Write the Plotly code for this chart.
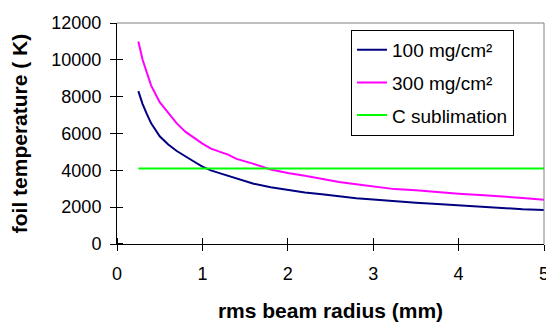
import plotly.graph_objects as go

# rms beam radius (mm)
radius_mm = [0.25, 0.3, 0.35, 0.4, 0.5, 0.6, 0.7, 0.8, 0.9, 1.0, 1.1, 1.2, 1.3, 1.4,
             1.5, 1.6, 1.8, 2.0, 2.2, 2.4, 2.6, 2.8, 3.0, 3.25, 3.5, 3.75, 4.0,
             4.25, 4.5, 4.75, 5.0]
# foil temperature (K), 100 mg/cm2
temp_100 = [8300, 7600, 7050, 6550, 5850, 5400, 5050, 4750, 4480, 4200, 4000, 3850,
            3700, 3530, 3400, 3270, 3080, 2920, 2800, 2700, 2590, 2490, 2420, 2320,
            2240, 2170, 2090, 2010, 1950, 1890, 1850]
# foil temperature (K), 300 mg/cm2
temp_300 = [11000, 10000, 9300, 8600, 7700, 7100, 6550, 6100, 5750, 5450, 5180, 5000,
            4850, 4620, 4500, 4350, 4050, 3850, 3700, 3520, 3370, 3240, 3110, 2980,
            2920, 2810, 2730, 2660, 2600, 2500, 2400]
# carbon sublimation temperature
csub_r = [0.25, 5.0]
csub_T = [4100, 4100]

x_ticks = [0, 1, 2, 3, 4, 5]
y_ticks = [0, 2000, 4000, 6000, 8000, 10000, 12000]

FONT = "Liberation Sans, Arial, sans-serif"

fig = go.Figure()
fig.add_trace(go.Scatter(x=radius_mm, y=temp_100, mode="lines", name="100 mg/cm²",
                         line=dict(color="#000080", width=2), legendgroup="a"))
fig.add_trace(go.Scatter(x=radius_mm, y=temp_300, mode="lines", name="300 mg/cm²",
                         line=dict(color="#FF00FF", width=2), legendgroup="b"))
fig.add_trace(go.Scatter(x=csub_r, y=csub_T, mode="lines", name="C sublimation",
                         line=dict(color="#00FF00", width=2), legendgroup="c"))

axis_common = dict(showgrid=False, zeroline=False, showline=True,
                   linecolor="black", linewidth=1, ticks="outside",
                   ticklen=6, tickcolor="black", tickwidth=1,
                   tickfont=dict(family=FONT, size=18, color="black"))

# inner halves of the crossing tick marks (minor ticks, nudged off the majors)
x_minor = [v + 0.001 for v in x_ticks]
y_minor = [v + 2 for v in y_ticks]

# the page body adds an 8px offset, so the figure is 8px smaller on each axis
fig.update_layout(
    width=546, height=323,
    margin=dict(l=109, r=5, t=11, b=87),
    paper_bgcolor="white", plot_bgcolor="white",
    showlegend=True,
    legend=dict(x=0.548, y=0.969, xanchor="left", yanchor="top",
                bgcolor="white", bordercolor="black", borderwidth=1,
                font=dict(family=FONT, size=19, color="black"),
                tracegroupgap=5, traceorder="grouped"),
    xaxis=dict(range=[0, 5], tickvals=x_ticks, ticklabeloverflow="allow",
               ticklabelstandoff=7, **axis_common,
               minor=dict(tickmode="array", tickvals=x_minor, ticks="inside",
                          ticklen=6, tickcolor="black", tickwidth=1, showgrid=False),
               title=dict(text="rms beam radius (mm)", standoff=20,
                          font=dict(family=FONT, size=21, color="black", weight="bold"))),
    yaxis=dict(range=[0, 12000], tickvals=y_ticks, tickformat="d",
               ticklabelstandoff=5, **axis_common,
               minor=dict(tickmode="array", tickvals=y_minor, ticks="inside",
                          ticklen=6, tickcolor="black", tickwidth=1, showgrid=False),
               title=dict(text="foil temperature ( K)", standoff=17,
                          font=dict(family=FONT, size=21, color="black", weight="bold"))),
    shapes=[
        dict(type="line", xref="paper", yref="paper", x0=0, x1=1, y0=1, y1=1,
             line=dict(color="#808080", width=1)),
        dict(type="line", xref="paper", yref="paper", x0=1, x1=1, y0=0, y1=1,
             line=dict(color="#808080", width=1)),
    ],
)

fig.write_html("out.html")
